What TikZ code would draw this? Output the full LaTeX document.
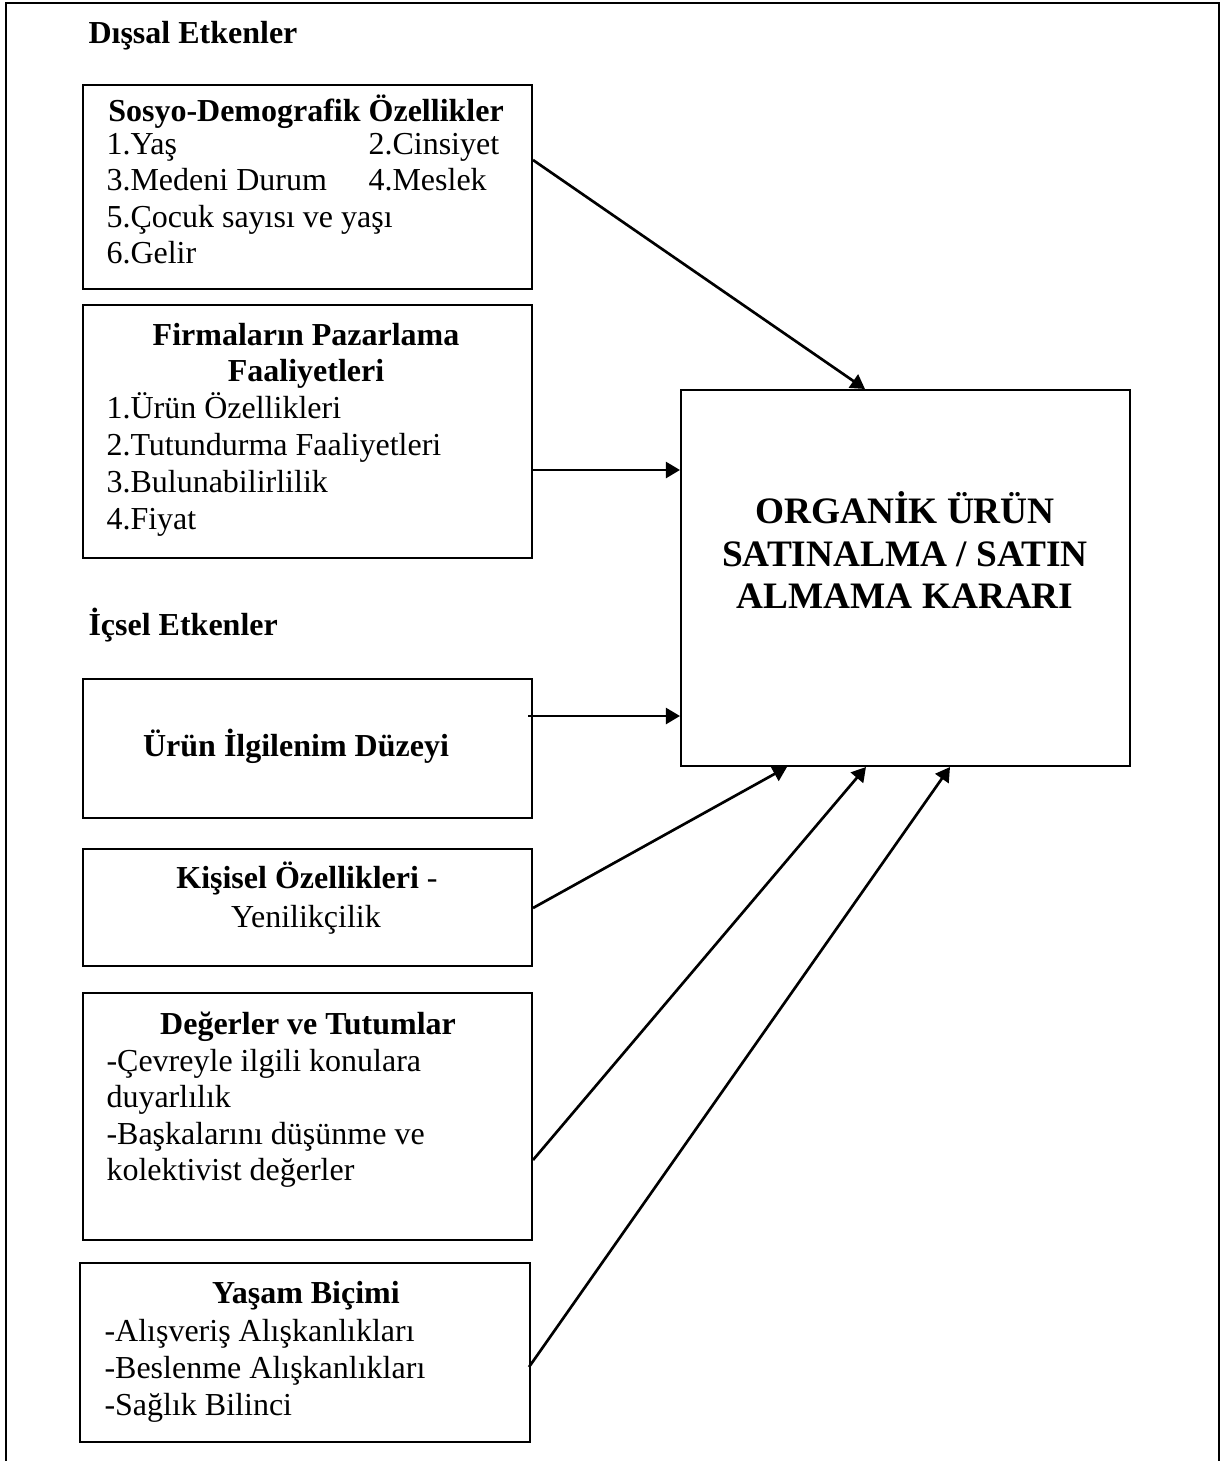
\documentclass[tikz,border=0pt]{standalone}
\usepackage{fontspec}
\setmainfont{Liberation Serif}
\usetikzlibrary{fit,arrows.meta,calc}
\begin{document}
\begin{tikzpicture}[x=0.375pt,y=-0.375pt,
 box/.style={draw,line width=0.75pt,inner sep=0pt},
 arr/.style={line width=1pt,-{Triangle[length=5.3pt,width=6pt]}},
 txt/.style={inner sep=0pt,font=\fontsize{12}{14}\selectfont},
 hd/.style={inner sep=0pt,font=\fontsize{12}{14}\selectfont\bfseries},
 bigtxt/.style={inner sep=0pt,font=\fontsize{14}{16}\selectfont\bfseries}]
\useasboundingbox (0,0) rectangle (1227,1461);
% outer frame (open at the bottom)
\draw[line width=1.1pt] (6,1461) -- (6,3) -- (1219,3) -- (1219,1461);

% section titles
\node[hd,anchor=base west] (t1) at (88,43) {Dışsal Etkenler};
\node[hd,anchor=base west] (t2) at (88,635) {İçsel Etkenler};

% boxes
\node[box,fit={(83,85) (532,289)}] (b1) {};
\node[box,fit={(83,305) (532,558)}] (b2) {};
\node[box,fit={(681,390) (1130,766)}] (big) {};
\node[box,fit={(83,679) (532,818)}] (b3) {};
\node[box,fit={(83,849) (532,966)}] (b4) {};
\node[box,fit={(83,993) (532,1240)}] (b5) {};
\node[box,fit={(80,1263) (530,1442)}] (b6) {};

% box 1
\node[hd,anchor=base] (h1) at (306,121) {Sosyo-Demografik Özellikler};
\node[txt,anchor=base west] (l11) at (106,154) {1.Yaş};
\node[txt,anchor=base west] (l12) at (368,154) {2.Cinsiyet};
\node[txt,anchor=base west] (l13) at (106,190) {3.Medeni Durum};
\node[txt,anchor=base west] (l14) at (368,190) {4.Meslek};
\node[txt,anchor=base west] (l15) at (106,227) {5.Çocuk sayısı ve yaşı};
\node[txt,anchor=base west] (l16) at (106,263) {6.Gelir};

% box 2
\node[hd,anchor=base] (h2a) at (306,345) {Firmaların Pazarlama};
\node[hd,anchor=base] (h2b) at (306,381) {Faaliyetleri};
\node[txt,anchor=base west] (l21) at (106,418) {1.Ürün Özellikleri};
\node[txt,anchor=base west] (l22) at (106,455) {2.Tutundurma Faaliyetleri};
\node[txt,anchor=base west] (l23) at (106,492) {3.Bulunabilirlilik};
\node[txt,anchor=base west] (l24) at (106,529) {4.Fiyat};

% big box
\node[bigtxt,anchor=base] (g1) at (905,523) {ORGANİK ÜRÜN};
\node[bigtxt,anchor=base] (g2) at (905,566) {SATINALMA / SATIN};
\node[bigtxt,anchor=base] (g3) at (905,608) {ALMAMA KARARI};

% box 3
\node[hd,anchor=base] (h3) at (296,756) {Ürün İlgilenim Düzeyi};

% box 4
\node[txt,anchor=base] (h4) at (307,888) {\bfseries Kişisel Özellikleri\mdseries\ -};
\node[txt,anchor=base] (l41) at (306,927) {Yenilikçilik};

% box 5
\node[hd,anchor=base] (h5) at (308,1034) {Değerler ve Tutumlar};
\node[txt,anchor=base west] (l51) at (106,1071) {-Çevreyle ilgili konulara};
\node[txt,anchor=base west] (l52) at (106,1107) {duyarlılık};
\node[txt,anchor=base west] (l53) at (106,1144) {-Başkalarını düşünme ve};
\node[txt,anchor=base west] (l54) at (106,1180) {kolektivist değerler};

% box 6
\node[hd,anchor=base] (h6) at (306,1303) {Yaşam Biçimi};
\node[txt,anchor=base west] (l61) at (104,1341) {-Alışveriş Alışkanlıkları};
\node[txt,anchor=base west] (l62) at (104,1378) {-Beslenme Alışkanlıkları};
\node[txt,anchor=base west] (l63) at (104,1415) {-Sağlık Bilinci};

% arrows
\draw[arr] (b1.east |- 0,160) -- (865,0 |- big.north);
\draw[arr] (b2.east |- 0,470) -- (big.west |- 0,470);
\draw[arr] ($(b3.east |- 0,716)+(-5,0)$) -- (big.west |- 0,716);
\draw[arr] (b4.east |- 0,908) -- (787,0 |- big.south);
\draw[arr] (b5.east |- 0,1160) -- (866,0 |- big.south);
\draw[arr] ($(b6.east |- 0,1367)+(-2,0)$) -- (950,0 |- big.south);
\end{tikzpicture}
\end{document}
